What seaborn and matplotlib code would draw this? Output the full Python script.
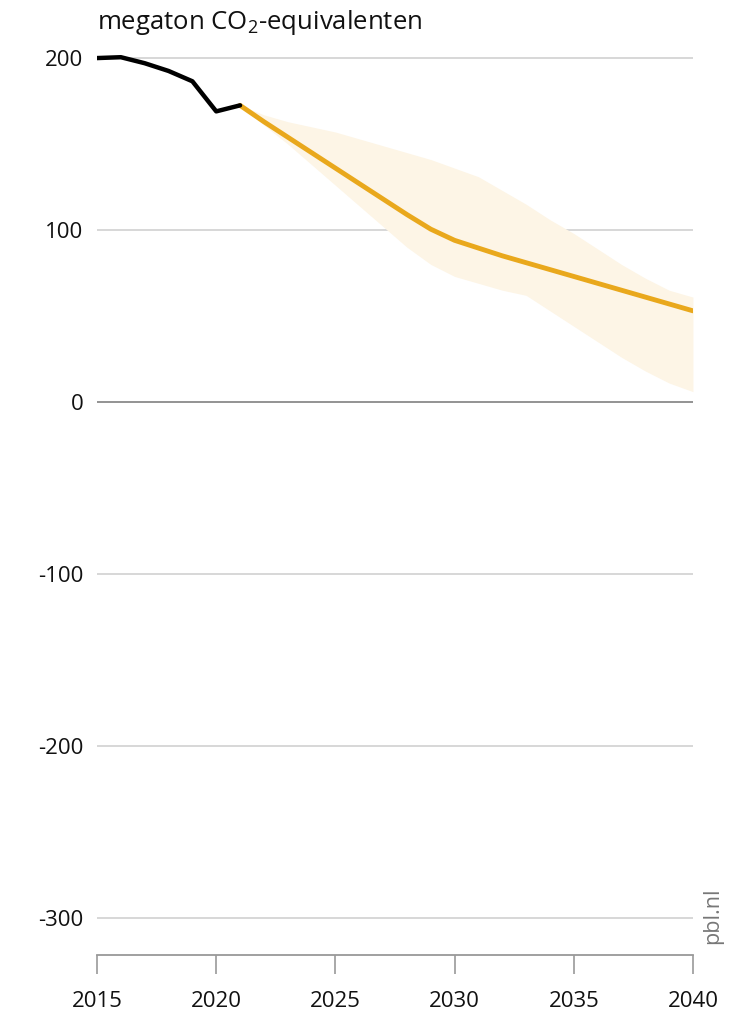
import numpy as np
import pandas as pd
import seaborn as sns
import matplotlib.pyplot as plt

# historische emissies (megaton CO2-eq)
hist_years = [2015, 2016, 2017, 2018, 2019, 2020, 2021]
hist_values = [200, 200.5, 197, 192.5, 186.5, 169, 172.5]

# projectie met bandbreedte
proj_years = list(range(2021, 2041))
proj_mid = [172.5, 163, 154, 145, 136, 127, 118, 109, 100.5, 94,
            89.5, 85, 81, 77, 73, 69, 65, 61, 57, 53]
proj_high = [172.5, 167, 163, 160, 157, 153, 149, 145, 141, 136,
             131, 123, 115, 106, 98, 89, 80, 72, 65, 61]
proj_low = [172.5, 161, 150, 138, 126, 114, 102, 90, 80, 73,
            69, 65, 62, 53, 44, 35, 26, 18, 11, 6]

y_ticks = [200, 100, 0, -100, -200, -300]
x_ticks = [2015, 2020, 2025, 2030, 2035, 2040]

sns.set_theme(style="white")
plt.rcParams['font.family'] = ['Open Sans', 'DejaVu Sans']
plt.rcParams['axes.unicode_minus'] = False
plt.rcParams['mathtext.fontset'] = 'custom'
plt.rcParams['mathtext.rm'] = 'Open Sans'
plt.rcParams['mathtext.it'] = 'Open Sans'

df_hist = pd.DataFrame({'jaar': hist_years, 'waarde': hist_values})
df_proj = pd.DataFrame({'jaar': proj_years, 'mid': proj_mid,
                        'hoog': proj_high, 'laag': proj_low})

fig = plt.figure(figsize=(7.34, 10.18), dpi=100)
ax = fig.add_axes([0.1322, 0.0619, 0.8119, 0.889])

ax.fill_between(df_proj['jaar'], df_proj['laag'], df_proj['hoog'],
                color='#fdf5e6', linewidth=0, zorder=1)
for y in y_ticks:
    if y == 0:
        ax.axhline(y, color='#8a8a8a', lw=1.3, zorder=0.5)
    else:
        ax.axhline(y, color='#d4d4d4', lw=1.3, zorder=0.5)

sns.lineplot(data=df_proj, x='jaar', y='mid', color='#e9a81c', lw=3.5,
             ax=ax, zorder=3)
sns.lineplot(data=df_hist, x='jaar', y='waarde', color='black', lw=3.2,
             ax=ax, zorder=4)

ax.set_xlim(2015, 2040)
ax.set_ylim(-321.6, 204.7)
ax.set_yticks(y_ticks)
ax.set_yticklabels([str(v) for v in y_ticks])
ax.set_xticks(x_ticks)
ax.set_xlabel('')
ax.set_ylabel('')

for s in ['top', 'right', 'left']:
    ax.spines[s].set_visible(False)
ax.spines['bottom'].set_color('#999999')
ax.spines['bottom'].set_linewidth(1.3)
ax.tick_params(axis='y', left=False, length=0, pad=10, labelsize=16,
               labelcolor='#111111')
ax.tick_params(axis='x', bottom=True, direction='out', length=14, width=1.2,
               color='#999999', pad=12, labelsize=16, labelcolor='#111111')

fig.text(0.1322, 0.9715, 'megaton CO$_2$-equivalenten', fontsize=18.5,
         color='#111111', ha='left', va='baseline')
fig.text(0.971, 0.100, 'pbl.nl', rotation=90, fontsize=15.5,
         color='#777777', ha='center', va='center')

plt.savefig('out.png', dpi=100)
